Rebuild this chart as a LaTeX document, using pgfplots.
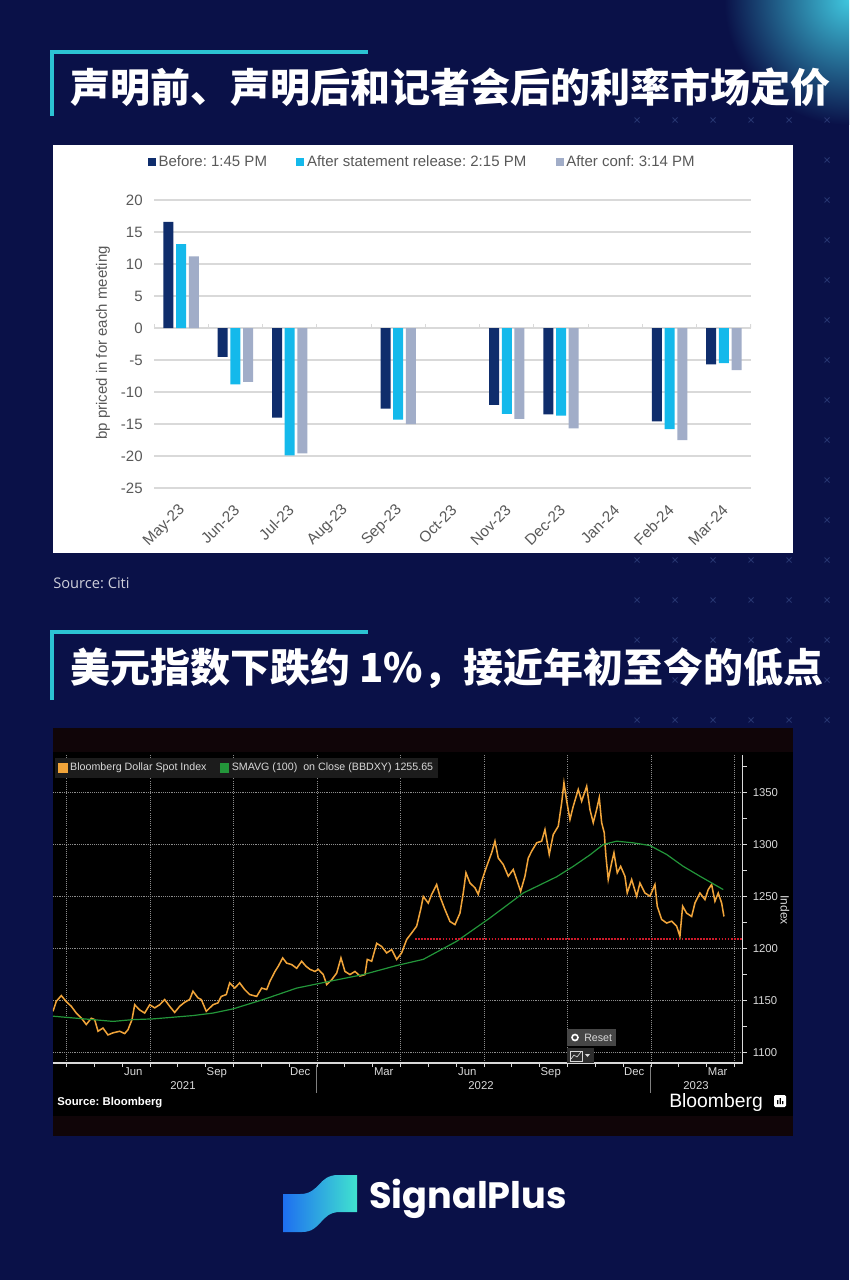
\documentclass[border=0pt]{standalone}
\usepackage{pgfplots}
\pgfplotsset{compat=1.18}
\usepackage{fontspec}
\setmainfont{Liberation Sans}
\newfontfamily\cjk{Noto Sans CJK SC}
\newfontfamily\pop{Poppins}
\newfontfamily\opensans{Open Sans}

\definecolor{bg}{HTML}{0A1148}
\definecolor{accent}{HTML}{2CC3D3}
\definecolor{xmark}{HTML}{26346F}
\definecolor{glow}{HTML}{3FC6DE}
\definecolor{navybar}{HTML}{0F2D6C}
\definecolor{cyanbar}{HTML}{14B9EB}
\definecolor{graybar}{HTML}{A1ADC8}
\definecolor{txtgray}{HTML}{595959}
\definecolor{gridgray}{HTML}{D9D9D9}
\definecolor{bbgorange}{HTML}{F0A43A}
\definecolor{bbggreen}{HTML}{23963A}
\definecolor{bbgred}{HTML}{D01A2A}
\definecolor{bbgtext}{HTML}{D9D9D9}
\definecolor{bbgstrip}{HTML}{100508}
\definecolor{bbglegend}{HTML}{1C1C1C}
\definecolor{btn}{HTML}{464646}
\definecolor{btndark}{HTML}{2D2D2D}
\definecolor{logoA}{HTML}{1E6FF0}
\definecolor{logoB}{HTML}{40E3CF}

\newcommand\fs[2]{\fontsize{#1pt}{#2pt}\selectfont}
\frenchspacing

\begin{document}
\begin{tikzpicture}[x=0.75pt,y=-0.75pt]
\useasboundingbox (0,0) rectangle (849,1280);
\fill[bg] (0,0) rectangle (849,1280);
\begin{scope}
  \clip (0,0) rectangle (849,1280);
  \shade[inner color=glow, outer color=bg] (849,0) circle (125);
\end{scope}

% background cross pattern
\foreach \xx in {637,675,...,833} {
  \foreach \yy in {120,160,...,720} {
    \draw[xmark, line width=0.6pt] (\xx-2.5,\yy-2.5) -- (\xx+2.5,\yy+2.5)
      (\xx-2.5,\yy+2.5) -- (\xx+2.5,\yy-2.5);
  }
}

% titles
\draw[accent, line width=3pt] (52,116) -- (52,52) -- (368,52);
\node[anchor=west, inner sep=0, text=white, font=\cjk\bfseries\fs{30}{34}]
  at (70,87) {声明前、声明后和记者会后的利率市场定价};
\draw[accent, line width=3pt] (52,700) -- (52,632) -- (368,632);
\node[anchor=west, inner sep=0, text=white, font=\cjk\bfseries\fs{30}{34}]
  at (70,668) {美元指数下跌约 1\%，接近年初至今的低点};
\node[anchor=west, inner sep=0, text=white!80!bg, font=\opensans\fs{11}{13}]
  at (53,583) {Source: Citi};

% ---------- top chart ----------
\fill[white] (53,145) rectangle (793,553);
\node[rotate=90, text=txtgray, font=\fs{11.25}{13}] at (103,343) {bp priced in for each meeting};

\begin{axis}[
  at={(115.5pt,-366pt)}, anchor=south west,
  scale only axis, width=447.75pt, height=216pt,
  xmin=-0.5, xmax=10.5, ymin=-25, ymax=20,
  ybar, bar width=7.5pt,
  axis lines=left, axis line style={draw=none},
  major tick length=0pt,
  ytick={-25,-20,...,20},
  xtick={0,...,10},
  xticklabels={May-23,Jun-23,Jul-23,Aug-23,Sep-23,Oct-23,Nov-23,Dec-23,Jan-24,Feb-24,Mar-24},
  /pgf/number format/assume math mode=true,
  ymajorgrids, grid style={gridgray, line width=0.8pt},
  yticklabel style={text=txtgray, font=\fs{11.25}{13}, xshift=-5pt},
  xticklabel style={text=txtgray, font=\fs{11.5}{13}, xshift=3.5pt, yshift=-12.5pt, rotate=45, anchor=east},
  legend columns=3,
  legend style={draw=none, fill=none, at={(0.45,1.132)}, anchor=center,
    text=txtgray, font=\fs{11.25}{13},
    /tikz/every even column/.append style={column sep=20pt}},
]
\addplot[fill=navybar, draw=none,
  legend image code/.code={\fill[navybar] (0pt,-3pt) rectangle (6pt,3pt);}]
  coordinates {(0,16.6) (1,-4.5) (2,-14.0) (4,-12.6) (6,-12.0) (7,-13.5) (9,-14.6) (10,-5.7)};
\addlegendentry{Before: 1:45 PM}
\addplot[fill=cyanbar, draw=none,
  legend image code/.code={\fill[cyanbar] (0pt,-3pt) rectangle (6pt,3pt);}]
  coordinates {(0,13.1) (1,-8.8) (2,-19.9) (4,-14.3) (6,-13.4) (7,-13.7) (9,-15.8) (10,-5.5)};
\addlegendentry{After statement release: 2:15 PM}
\addplot[fill=graybar, draw=none,
  legend image code/.code={\fill[graybar] (0pt,-3pt) rectangle (6pt,3pt);}]
  coordinates {(0,11.2) (1,-8.4) (2,-19.6) (4,-15.0) (6,-14.2) (7,-15.7) (9,-17.5) (10,-6.6)};
\addlegendentry{After conf: 3:14 PM}
\pgfplotsinvokeforeach{-0.5,0.5,1.5,2.5,3.5,4.5,5.5,6.5,7.5,8.5,9.5,10.5}{
  \draw[gridgray, line width=0.8pt] (axis cs:#1,0) -- ([yshift=3pt]axis cs:#1,0);
}
\end{axis}

% ---------- bottom chart ----------
\fill[black] (53,728) rectangle (793,1136);
\fill[bbgstrip] (53,728) rectangle (793,752);
\fill[bbgstrip] (53,1116) rectangle (793,1136);

\begin{axis}[
  at={(39.75pt,-797.25pt)}, anchor=south west,
  scale only axis, width=517.3pt, height=231pt,
  xmin=2.514, xmax=27.3, ymin=1090, ymax=1386,
  axis x line*=bottom, axis y line*=right,
  axis line style={bbgtext, line width=0.8pt},
  tick align=outside, major tick length=3pt, minor tick length=3pt,
  tick style={bbgtext, line width=0.6pt},
  /pgf/number format/assume math mode=true,
  /pgf/number format/1000 sep={},
  ytick={1100,1150,...,1350}, minor ytick={1125,1175,...,1375},
  ymajorgrids,
  xtick={3,...,27}, xticklabels={},
  minor xtick={3,6,...,27}, xminorgrids, minor x tick style={draw=none},
  extra x ticks={5.4,8.4,11.4,14.4,17.4,20.4,23.4,26.4},
  extra x tick labels={Jun,Sep,Dec,Mar,Jun,Sep,Dec,Mar},
  extra x tick style={major tick length=0pt, grid=none},
  grid style={densely dotted, white!55!black, line width=0.6pt},
  minor grid style={densely dotted, white!55!black, line width=0.6pt},
  yticklabel style={text=bbgtext, font=\fs{8.5}{10}, xshift=1pt},
  xticklabel style={text=bbgtext, font=\fs{8.5}{10}},
  legend columns=2,
  legend style={at={(0.003,0.992)}, anchor=north west,
    fill=bbglegend, draw=none, text=bbgtext,
    font=\fs{8}{9.5}, inner sep=2pt,
    /tikz/every even column/.append style={column sep=8pt}},
]
\addplot[bbgorange, line width=1.15pt,
  legend image code/.code={\fill[bbgorange] (0pt,-3pt) rectangle (6pt,3pt);}]
  coordinates {
(2.514,1139.7)(2.632,1149.3)(2.812,1154.8)(2.992,1149)(3.171,1144.5)(3.351,1138)
(3.531,1133.3)(3.710,1127)(3.890,1133)(4.012,1131.7)(4.131,1120.5)(4.310,1123.6)
(4.490,1117)(4.670,1119)(4.910,1120.5)(5.090,1118.3)(5.209,1122)(5.353,1131.7)
(5.450,1146)(5.629,1141)(5.809,1138)(5.989,1146)(6.168,1143)(6.348,1146)
(6.527,1151)(6.707,1144.5)(6.887,1138.6)(7.066,1144.5)(7.246,1148.4)(7.426,1151)
(7.544,1159)(7.724,1152.6)(7.843,1151)(8.022,1139.7)(8.263,1146)(8.443,1147.8)
(8.561,1154)(8.741,1155.8)(8.863,1167)(9.043,1162)(9.222,1167)(9.402,1160.6)
(9.582,1155.8)(9.833,1154)(10.013,1162)(10.193,1160.6)(10.311,1168.6)(10.491,1178)
(10.609,1183)(10.768,1191)(10.911,1186)(11.091,1184.6)(11.271,1181)(11.450,1187.8)
(11.605,1183)(11.748,1180)(11.928,1178)(12.047,1180)(12.226,1175)(12.349,1165.4)
(12.528,1170)(12.708,1176.4)(12.862,1191)(13.006,1178)(13.186,1175)(13.365,1178)
(13.545,1173.6)(13.725,1175)(13.807,1189.6)(13.966,1187.8)(14.145,1205)(14.325,1202)
(14.504,1195.8)(14.684,1199)(14.864,1189.6)(15.043,1195.8)(15.223,1208.7)(15.403,1215)
(15.582,1221.5)(15.726,1237.5)(15.820,1250)(15.999,1243.7)(16.121,1252)(16.301,1261.5)
(16.420,1250)(16.599,1237.5)(16.779,1226)(16.959,1223)(17.138,1234)(17.257,1253.4)
(17.354,1272.8)(17.498,1263)(17.677,1258.4)(17.796,1252)(17.918,1264.7)(18.098,1279)
(18.277,1292)(18.396,1303.2)(18.514,1287)(18.694,1280.8)(18.874,1269.5)(19.053,1276)
(19.176,1266.3)(19.319,1255)(19.474,1269.5)(19.593,1287)(19.715,1293.6)(19.894,1301.6)
(20.074,1303.2)(20.193,1314.4)(20.347,1290.4)(20.491,1309.6)(20.671,1317.6)(20.793,1340)
(20.875,1359.3)(20.972,1342)(21.091,1324)(21.210,1336.8)(21.389,1352.9)(21.511,1341.6)
(21.691,1356)(21.809,1333.7)(21.928,1320.9)(22.050,1333.7)(22.144,1345)(22.230,1320.9)
(22.323,1311.3)(22.384,1288.8)(22.467,1266.3)(22.589,1282.4)(22.672,1292)(22.791,1272.8)
(22.913,1279)(23.067,1269.5)(23.150,1253.4)(23.308,1266.3)(23.488,1250.3)(23.606,1263)
(23.786,1253.4)(23.966,1250.3)(24.145,1261.5)(24.228,1240.7)(24.386,1228)(24.566,1224.5)
(24.745,1226.3)(24.925,1221.5)(25.043,1211.8)(25.140,1240.7)(25.284,1234)(25.464,1230.8)
(25.582,1243.7)(25.762,1253.4)(25.942,1247)(26.060,1256.7)(26.182,1261.5)(26.301,1245.5)
(26.420,1253.4)(26.542,1243.7)(26.625,1230.8)
  };
\addlegendentry{Bloomberg Dollar Spot Index}
\addplot[bbggreen, line width=0.9pt,
  legend image code/.code={\fill[bbggreen] (0pt,-3pt) rectangle (6pt,3pt);}]
  coordinates {
(2.514,1135)(4.670,1130)(5.388,1131.7)(6.107,1132.4)(6.826,1134)(7.544,1135.6)
(8.263,1138)(8.982,1142)(10.070,1151)(11.271,1162)(12.467,1168.6)(13.664,1175)
(14.864,1183.7)(15.820,1189.6)(17.020,1207)(18.216,1229.4)(19.414,1253.4)(20.614,1269)
(21.210,1279)(21.809,1290)(22.288,1300)(22.770,1303.2)(23.365,1301.6)(23.966,1299)
(24.566,1290.4)(25.162,1279)(25.762,1269.5)(26.599,1256.7)
  };
\addlegendentry{SMAVG (100)\ \ on Close (BBDXY) 1255.65}
\addplot[bbgred, densely dotted, line width=1.3pt, forget plot]
  coordinates {(15.52,1209) (27.3,1209)};
\end{axis}

% bottom chart furniture
\node[text=bbgtext, font=\fs{8.5}{10}] at (183,1086) {2021};
\node[text=bbgtext, font=\fs{8.5}{10}] at (481,1086) {2022};
\node[text=bbgtext, font=\fs{8.5}{10}] at (696,1086) {2023};
\draw[white!50!black, line width=0.6pt] (316,1065) -- (316,1093);
\draw[white!50!black, line width=0.6pt] (650,1065) -- (650,1093);
\node[rotate=-90, text=bbgtext, font=\fs{9}{10}] at (785,910) {Index};
\node[anchor=west, inner sep=0, text=white, font=\bfseries\fs{8.5}{10}] at (57,1103) {Source:\ Bloomberg};
\node[anchor=west, inner sep=0, text=white, font=\fs{14.5}{16}] at (669,1102) {Bloomberg};
\fill[white, rounded corners=1pt] (774,1095) rectangle (786,1107);
\fill[black] (777,1104) rectangle (778.3,1100) (779.5,1104) rectangle (780.8,1098) (782,1104) rectangle (783.3,1101);
% reset widget
\fill[btn] (567,1029) rectangle (616,1046);
\draw[white, line width=1.2pt] (575,1037.5) circle (3);
\node[anchor=west, inner sep=0, text=bbgtext, font=\fs{8}{9}] at (584,1037.5) {Reset};
\fill[btndark] (567,1048) rectangle (594,1063);
\draw[bbgtext, line width=0.5pt] (570,1051) rectangle (582,1061);
\draw[bbgtext, line width=0.5pt] (571,1059) -- (574,1055) -- (577,1057) -- (581,1052);
\fill[bbgtext] (585,1054) -- (590,1054) -- (587.5,1057) -- cycle;

% ---------- logo ----------
\shade[left color=logoA, right color=logoB]
  (283,1194) -- (300,1194) .. controls (320,1194) and (318,1175) .. (338,1175) -- (357,1175)
  -- (357,1212) -- (340,1212) .. controls (320,1212) and (322,1232) .. (302,1232) -- (283,1232) -- cycle;
\node[anchor=west, inner sep=0, text=white, font=\pop\bfseries\fs{27.5}{30}] at (369,1199) {SignalPlus};
\end{tikzpicture}
\end{document}
